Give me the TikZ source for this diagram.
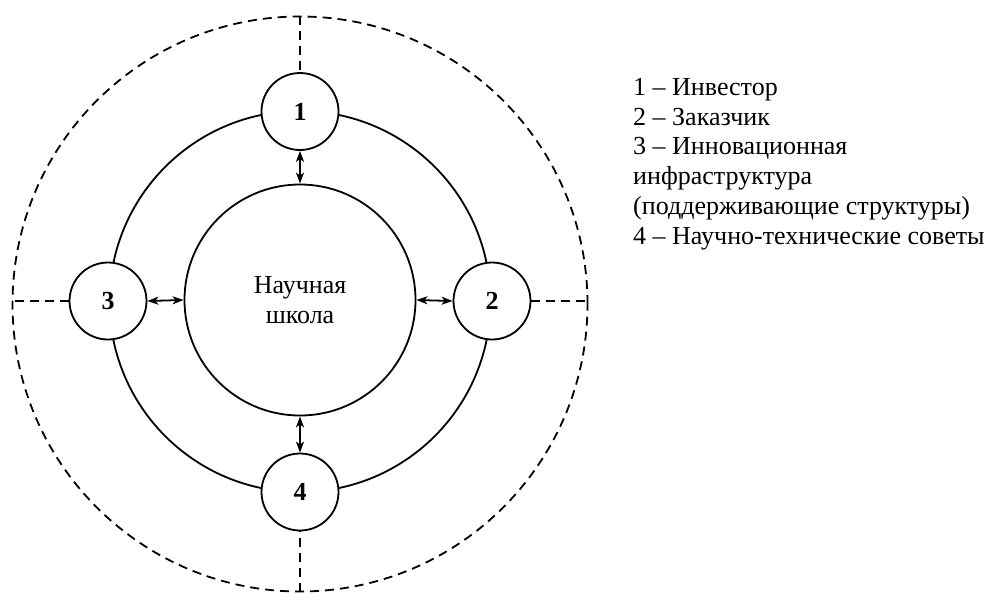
\documentclass[tikz,border=0pt]{standalone}
\usepackage{fontspec}
\setmainfont{Liberation Serif}
\usetikzlibrary{arrows.meta}
\begin{document}
\begin{tikzpicture}[x=1pt,y=-1pt,
  ring/.style={circle,draw,line width=1.8pt,inner sep=0pt},
  actor/.style={ring,fill=white,minimum size=77pt,font=\fontsize{26}{28}\selectfont\bfseries},
  dash line/.style={line width=1.8pt,dash pattern=on 9pt off 6pt},
  link/.style={line width=1.8pt,{Stealth[length=11pt,width=8pt,inset=3pt]}-{Stealth[length=11pt,width=8pt,inset=3pt]}}]
\useasboundingbox (0,0) rectangle (995,592);
\node[ring,dash line,minimum size=575pt] (outer) at (300,304) {};
\node[ring,minimum size=381pt] (mid) at (300,301.5) {};
\node[ring,minimum size=231pt,align=center,font=\fontsize{26}{30}\selectfont] (school) at (300,300) {Научная\\школа};
\node[actor] (c1) at (300,111.5) {1};
\node[actor] (c2) at (492,301) {2};
\node[actor] (c3) at (108,301) {3};
\node[actor] (c4) at (300,492) {4};
\draw[dash line] (outer.north) -- (c1.north);
\draw[dash line] (c2.east) -- (c2.east -| outer.east);
\draw[dash line] (c3.west) -- (c3.west -| outer.west);
\draw[dash line] (outer.south) -- (c4.south);
\draw[link] (c1.south) -- (school.north);
\draw[link] (c2.west) -- (school.east);
\draw[link] (c3.east) -- (school.west);
\draw[link] (c4.north) -- (school.south);
\node[anchor=north west,align=left,inner sep=0pt,font=\fontsize{26}{29.8}\selectfont] (legend) at (633,78)
{1 – Инвестор\\2 – Заказчик\\3 – Инновационная\\инфраструктура\\(поддерживающие структуры)\\4 – Научно-технические советы};
\end{tikzpicture}
\end{document}
